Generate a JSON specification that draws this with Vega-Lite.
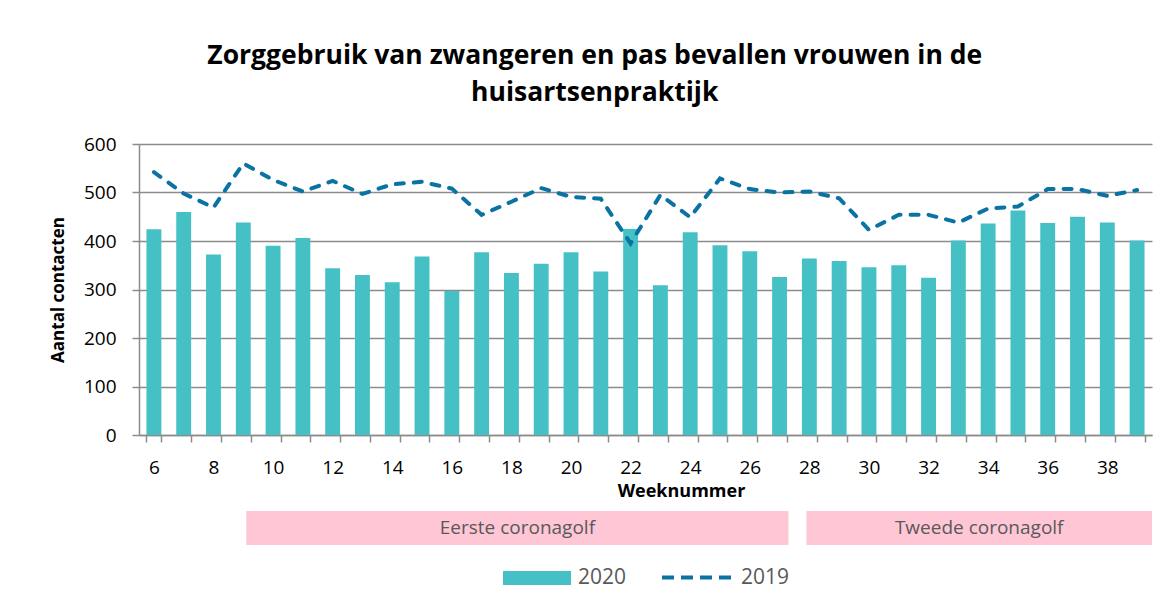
{
  "$schema": "https://vega.github.io/schema/vega-lite/v6.json",
  "background": "white",
  "padding": {"left": 49, "top": 42, "right": 10, "bottom": 5},
  "config": {
    "font": "Open Sans",
    "view": {"stroke": null}
  },
  "title": {
    "text": ["Zorggebruik van zwangeren en pas bevallen vrouwen in de", "huisartsenpraktijk"],
    "fontSize": 26.5,
    "fontWeight": "bold",
    "color": "#000000",
    "lineHeight": 37,
    "anchor": "middle",
    "offset": 29,
    "dx": -6
  },
  "datasets": {
    "counts": [
      {"week": 6, "year": "2020", "count": 424}, {"week": 7, "year": "2020", "count": 460}, {"week": 8, "year": "2020", "count": 372}, {"week": 9, "year": "2020", "count": 438},
      {"week": 10, "year": "2020", "count": 390}, {"week": 11, "year": "2020", "count": 406}, {"week": 12, "year": "2020", "count": 344}, {"week": 13, "year": "2020", "count": 330},
      {"week": 14, "year": "2020", "count": 315}, {"week": 15, "year": "2020", "count": 368}, {"week": 16, "year": "2020", "count": 297}, {"week": 17, "year": "2020", "count": 377},
      {"week": 18, "year": "2020", "count": 334}, {"week": 19, "year": "2020", "count": 353}, {"week": 20, "year": "2020", "count": 377}, {"week": 21, "year": "2020", "count": 337},
      {"week": 22, "year": "2020", "count": 425}, {"week": 23, "year": "2020", "count": 309}, {"week": 24, "year": "2020", "count": 418}, {"week": 25, "year": "2020", "count": 391},
      {"week": 26, "year": "2020", "count": 379}, {"week": 27, "year": "2020", "count": 326}, {"week": 28, "year": "2020", "count": 364}, {"week": 29, "year": "2020", "count": 359},
      {"week": 30, "year": "2020", "count": 346}, {"week": 31, "year": "2020", "count": 350}, {"week": 32, "year": "2020", "count": 324}, {"week": 33, "year": "2020", "count": 401},
      {"week": 34, "year": "2020", "count": 436}, {"week": 35, "year": "2020", "count": 463}, {"week": 36, "year": "2020", "count": 437}, {"week": 37, "year": "2020", "count": 450},
      {"week": 38, "year": "2020", "count": 438}, {"week": 39, "year": "2020", "count": 401},
      {"week": 6, "year": "2019", "count": 542}, {"week": 7, "year": "2019", "count": 498}, {"week": 8, "year": "2019", "count": 469}, {"week": 9, "year": "2019", "count": 560},
      {"week": 10, "year": "2019", "count": 526}, {"week": 11, "year": "2019", "count": 502}, {"week": 12, "year": "2019", "count": 524}, {"week": 13, "year": "2019", "count": 497},
      {"week": 14, "year": "2019", "count": 517}, {"week": 15, "year": "2019", "count": 522}, {"week": 16, "year": "2019", "count": 508}, {"week": 17, "year": "2019", "count": 454},
      {"week": 18, "year": "2019", "count": 481}, {"week": 19, "year": "2019", "count": 509}, {"week": 20, "year": "2019", "count": 491}, {"week": 21, "year": "2019", "count": 487},
      {"week": 22, "year": "2019", "count": 395}, {"week": 23, "year": "2019", "count": 495}, {"week": 24, "year": "2019", "count": 449}, {"week": 25, "year": "2019", "count": 529},
      {"week": 26, "year": "2019", "count": 507}, {"week": 27, "year": "2019", "count": 500}, {"week": 28, "year": "2019", "count": 502}, {"week": 29, "year": "2019", "count": 488},
      {"week": 30, "year": "2019", "count": 423}, {"week": 31, "year": "2019", "count": 454}, {"week": 32, "year": "2019", "count": 454}, {"week": 33, "year": "2019", "count": 438},
      {"week": 34, "year": "2019", "count": 467}, {"week": 35, "year": "2019", "count": 471}, {"week": 36, "year": "2019", "count": 507}, {"week": 37, "year": "2019", "count": 507},
      {"week": 38, "year": "2019", "count": 493}, {"week": 39, "year": "2019", "count": 505}
    ],
    "bands": [
      {"label": "Eerste coronagolf", "start": 9.1, "end": 27.3, "mid": 18.2},
      {"label": "Tweede coronagolf", "start": 27.9, "end": 39.5, "mid": 33.7}
    ]
  },
  "resolve": {
    "scale": {"fill": "shared", "stroke": "shared"},
    "legend": {"fill": "shared", "stroke": "shared"}
  },
  "spacing": 11,
  "vconcat": [
    {
      "width": 1013,
      "height": 291,
      "data": {"name": "counts"},
      "layer": [
        {
          "transform": [{"filter": "datum.year == '2020'"}],
          "mark": {"type": "bar"},
          "encoding": {
            "x": {
              "field": "week", "type": "ordinal",
              "scale": {"paddingInner": 0.5, "paddingOuter": 0.25},
              "axis": {
                "title": "Weeknummer",
                "titleFontSize": 18, "titleFontWeight": "bold", "titleColor": "#000000",
                "titlePadding": 5, "titleX": 542,
                "labelAngle": 0, "labelFontSize": 19, "labelColor": "#000000",
                "labelExpr": "datum.value % 2 == 0 ? datum.label : ''",
                "labelPadding": 16,
                "tickBand": "extent", "tickSize": 7, "tickColor": "#8c8c8c", "tickWidth": 1.5,
                "domainColor": "#8c8c8c", "domainWidth": 1.5,
                "grid": false
              }
            },
            "y": {
              "field": "count", "type": "quantitative",
              "scale": {"domain": [0, 600]},
              "axis": {
                "title": "Aantal contacten",
                "titleFontSize": 17, "titleFontWeight": "bold", "titleColor": "#000000",
                "titlePadding": 16,
                "values": [0, 100, 200, 300, 400, 500, 600],
                "labelFontSize": 19, "labelColor": "#000000", "labelPadding": 16,
                "tickSize": 7, "tickColor": "#8c8c8c", "tickWidth": 1.5,
                "domainColor": "#8c8c8c", "domainWidth": 1.5,
                "grid": true, "gridColor": "#8c8c8c", "gridWidth": 1.5
              }
            },
            "fill": {
              "field": "year", "type": "nominal",
              "scale": {"domain": ["2020"], "range": ["#45C1C6"]},
              "legend": {
                "title": null, "orient": "none", "legendX": 364, "legendY": 400,
                "symbolType": "M-1,-0.206H1V0.206H-1Z", "symbolSize": 4624, "symbolStrokeWidth": 0,
                "labelFontSize": 21, "labelColor": "#595959", "labelOffset": 7
              }
            }
          }
        },
        {
          "transform": [{"filter": "datum.year == '2019'"}],
          "mark": {"type": "line", "strokeWidth": 4, "strokeDash": [8, 10], "strokeCap": "round"},
          "encoding": {
            "x": {"field": "week", "type": "ordinal"},
            "y": {"field": "count", "type": "quantitative"},
            "stroke": {
              "field": "year", "type": "nominal",
              "scale": {"domain": ["2019"], "range": ["#0B73A3"]},
              "legend": {
                "title": null, "orient": "none", "legendX": 521, "legendY": 397,
                "symbolType": "stroke", "symbolSize": 4761, "symbolStrokeWidth": 4, "symbolDash": [12, 7],
                "labelFontSize": 21, "labelColor": "#595959", "labelOffset": 8
              }
            }
          }
        }
      ]
    },
    {
      "width": 1013,
      "height": 34,
      "data": {"name": "bands"},
      "layer": [
        {
          "mark": {"type": "rect", "color": "#FFC6D6"},
          "encoding": {
            "x": {"field": "start", "type": "quantitative", "scale": {"domain": [5.5, 39.5], "nice": false, "zero": false}, "axis": null},
            "x2": {"field": "end"}
          }
        },
        {
          "mark": {"type": "text", "fontSize": 19, "color": "#595959", "baseline": "middle"},
          "encoding": {
            "x": {"field": "mid", "type": "quantitative"},
            "text": {"field": "label"}
          }
        }
      ]
    }
  ]
}
